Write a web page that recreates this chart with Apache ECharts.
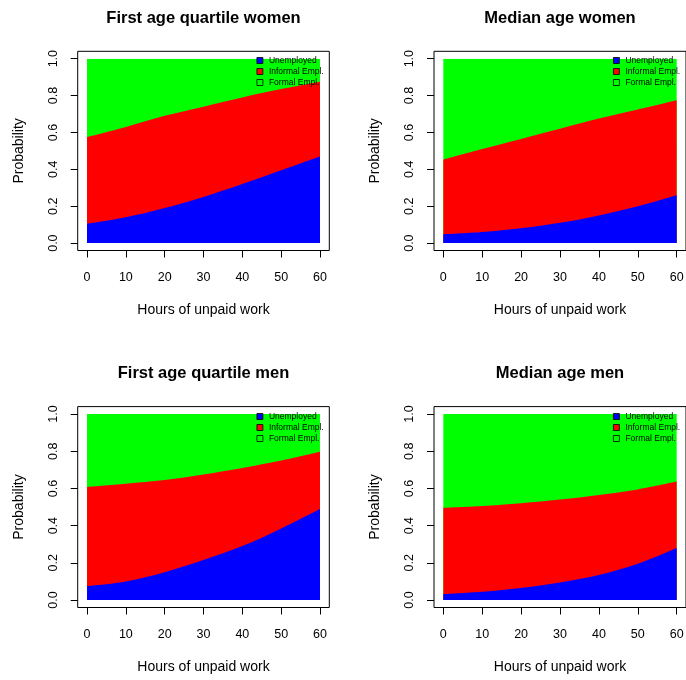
<!DOCTYPE html>
<html>
<head>
<meta charset="utf-8">
<script src="https://cdn.jsdelivr.net/npm/echarts@6/dist/echarts.min.js"></script>
<style>
html,body{margin:0;padding:0;background:#fff;}
#chart{width:686px;height:680px;}
</style>
</head>
<body>
<div id="chart"></div>
<script>
// ---- data ----
const hours = [0, 10, 20, 30, 40, 50, 60];
const xTicks = [0, 10, 20, 30, 40, 50, 60];
const yTicks = [0, 0.2, 0.4, 0.6, 0.8, 1.0];
const seriesNames = ['Unemployed', 'Informal Empl.', 'Formal Empl.'];
const panelTitles = ['First age quartile women', 'Median age women', 'First age quartile men', 'Median age men'];

// Panel 1: first age quartile women
const p1Unemployed = [0.105, 0.14, 0.19, 0.25, 0.32, 0.395, 0.47];
const p1Informal   = [0.47, 0.49, 0.50, 0.49, 0.47, 0.44, 0.405];
const p1Formal     = [0.425, 0.37, 0.31, 0.26, 0.21, 0.165, 0.125];
// Panel 2: median age women
const p2Unemployed = [0.048, 0.06, 0.08, 0.11, 0.15, 0.20, 0.26];
const p2Informal   = [0.405, 0.45, 0.485, 0.51, 0.525, 0.525, 0.515];
const p2Formal     = [0.547, 0.49, 0.435, 0.38, 0.325, 0.275, 0.225];
// Panel 3: first age quartile men
const p3Unemployed = [0.075, 0.10, 0.15, 0.215, 0.29, 0.385, 0.49];
const p3Informal   = [0.533, 0.525, 0.495, 0.46, 0.42, 0.365, 0.307];
const p3Formal     = [0.392, 0.375, 0.355, 0.325, 0.29, 0.25, 0.203];
// Panel 4: median age men
const p4Unemployed = [0.032, 0.045, 0.065, 0.095, 0.135, 0.195, 0.28];
const p4Informal   = [0.463, 0.46, 0.455, 0.445, 0.43, 0.40, 0.357];
const p4Formal     = [0.505, 0.495, 0.48, 0.46, 0.435, 0.405, 0.363];

const panels = [
  [p1Unemployed, p1Informal, p1Formal],
  [p2Unemployed, p2Informal, p2Formal],
  [p3Unemployed, p3Informal, p3Formal],
  [p4Unemployed, p4Informal, p4Formal]
];

// ---- layout / style ----
const FONT = 'Liberation Sans, Arial, Helvetica, sans-serif';
const colors = ['#0000FF', '#FF0000', '#00FF00'];
const XMIN = -2.4, XMAX = 62.4, YMIN = -0.04, YMAX = 1.04;
const boxes = [
  {left: 77.7, top: 51.3, width: 251.6, height: 199.2},
  {left: 434, top: 51.3, width: 252, height: 199.2},
  {left: 77.7, top: 406.6, width: 251.6, height: 200.9},
  {left: 434, top: 406.6, width: 252, height: 200.9}
];
// inner plotting regions: the 0..60 x 0..1 part of each box
const inner = boxes.map(b => ({
  left: b.left + b.width * (0 - XMIN) / (XMAX - XMIN),
  width: b.width * 60 / (XMAX - XMIN),
  top: b.top + b.height * (YMAX - 1) / (YMAX - YMIN),
  height: b.height * 1 / (YMAX - YMIN)
}));
const titleTops = [9.5, 9.5, 364.5, 364.5];
const legendPos = [
  {left: 256.5, top: 56},
  {left: 613, top: 56},
  {left: 256.5, top: 412},
  {left: 613, top: 412}
];

const gridList = [];
const xAxes = [];
const yAxes = [];
// frame grids (0..3): box, ticks, labels
boxes.forEach((b, i) => {
  gridList.push(Object.assign({show: true, borderColor: '#000', borderWidth: 1, backgroundColor: 'transparent', containLabel: false, outerBoundsMode: 'none', z: 5}, b));
  xAxes.push({
    type: 'value', gridIndex: i, min: XMIN, max: XMAX,
    name: 'Hours of unpaid work', nameLocation: 'middle', nameGap: 52.5,
    nameTextStyle: {fontFamily: FONT, fontSize: 14, color: '#000'},
    axisLine: {show: false, onZero: false},
    axisTick: {show: true, inside: false, length: 7, customValues: xTicks, lineStyle: {color: '#000', width: 1}},
    axisLabel: {show: true, margin: 21, fontFamily: FONT, fontSize: 12.5, color: '#000', customValues: xTicks, formatter: v => String(v)},
    splitLine: {show: false}
  });
  yAxes.push({
    type: 'value', gridIndex: i, min: YMIN, max: YMAX,
    name: 'Probability', nameLocation: 'middle', nameRotate: 90, nameGap: 51.5,
    nameTextStyle: {fontFamily: FONT, fontSize: 14, color: '#000'},
    axisLine: {show: false, onZero: false},
    axisTick: {show: true, inside: false, length: 7, customValues: yTicks, lineStyle: {color: '#000', width: 1}},
    axisLabel: {show: true, margin: 18, rotate: 90, fontFamily: FONT, fontSize: 12.5, color: '#000', customValues: yTicks, formatter: v => v.toFixed(1)},
    splitLine: {show: false}
  });
});
// data grids (4..7)
inner.forEach((g, i) => {
  gridList.push(Object.assign({show: false, containLabel: false, outerBoundsMode: 'none'}, g));
  xAxes.push({type: 'value', gridIndex: 4 + i, min: 0, max: 60, show: false, axisLine: {onZero: false}});
  yAxes.push({type: 'value', gridIndex: 4 + i, min: 0, max: 1, show: false, axisLine: {onZero: false}});
});

const series = [];
panels.forEach((vals, pi) => {
  // cumulative upper boundaries of each band, built from the share arrays
  const cumul = [];
  let running = hours.map(() => 0);
  vals.forEach(arr => {
    running = running.map((r, k) => r + arr[k]);
    cumul.push(running.slice());
  });
  // draw top band first so lower bands paint over it
  [2, 1, 0].forEach(si => {
    series.push({
      name: seriesNames[si],
      type: 'line',
      xAxisIndex: 4 + pi,
      yAxisIndex: 4 + pi,
      smooth: 0.35,
      symbol: 'none',
      showSymbol: false,
      silent: true,
      lineStyle: {width: 0, color: colors[si]},
      itemStyle: {color: colors[si]},
      areaStyle: {color: colors[si], opacity: 1, origin: 'start'},
      emphasis: {disabled: true},
      data: hours.map((h, k) => [h, Math.min(cumul[si][k], 1)])
    });
  });
});

const option = {
  animation: false,
  backgroundColor: '#fff',
  textStyle: {fontFamily: FONT},
  title: panelTitles.map((t, i) => ({
    text: t,
    left: boxes[i].left + boxes[i].width / 2,
    textAlign: 'center',
    top: titleTops[i],
    padding: 0,
    textStyle: {fontFamily: FONT, fontSize: 16.5, fontWeight: 'bold', color: '#000'}
  })),
  legend: legendPos.map((p) => ({
    left: p.left,
    top: p.top,
    orient: 'vertical',
    data: seriesNames,
    itemWidth: 6,
    itemHeight: 6,
    itemGap: 2,
    selectedMode: false,
    icon: 'rect',
    padding: 0,
    z: 10,
    itemStyle: {borderColor: '#000', borderWidth: 0.8},
    textStyle: {fontFamily: FONT, fontSize: 8.5, color: '#000', lineHeight: 8.5, padding: [0, 0, 0, 1]}
  })),
  grid: gridList,
  xAxis: xAxes,
  yAxis: yAxes,
  series: series
};

const chart = echarts.init(document.getElementById('chart'), null, {renderer: 'canvas'});
chart.setOption(option);
</script>
</body>
</html>
